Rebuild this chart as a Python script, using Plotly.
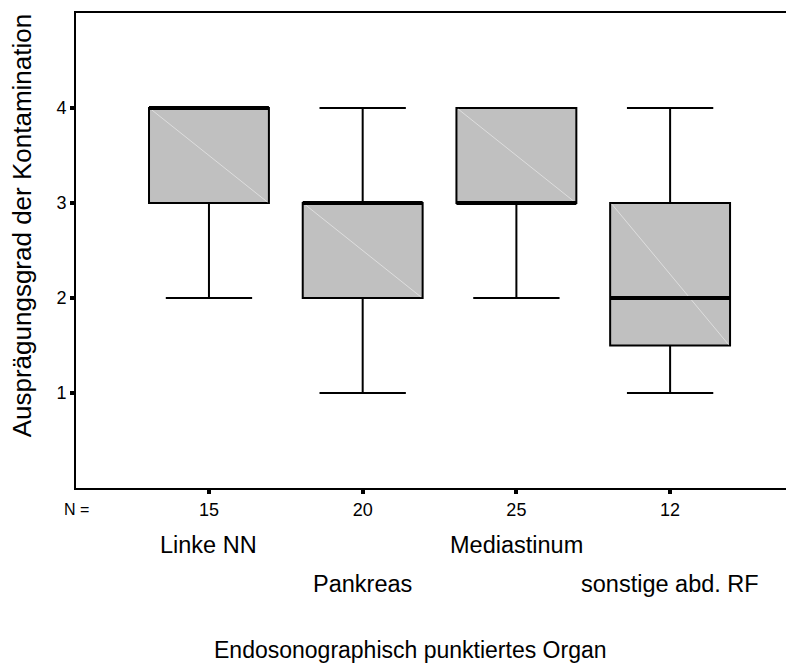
import plotly.graph_objects as go

# ---- data ----
categories = ["Linke NN", "Pankreas", "Mediastinum", "sonstige abd. RF"]
n_counts = ["15", "20", "25", "12"]
q1 = [3, 2, 3, 1.5]
median = [4, 3, 3, 2]
q3 = [4, 3, 4, 3]
lower_whisker = [2, 1, 2, 1]
upper_whisker = [4, 4, 4, 4]
y_ticks = [1, 2, 3, 4]

FONT = "Liberation Sans, Arial, sans-serif"
pos = list(range(len(categories)))
BOX_W = 0.78

fig = go.Figure()
fig.add_trace(go.Box(
    x=pos, q1=q1, median=median, q3=q3,
    lowerfence=lower_whisker, upperfence=upper_whisker,
    width=BOX_W, whiskerwidth=0.72,
    fillcolor="#c0c0c0", line=dict(color="black", width=2),
    boxpoints=False, showlegend=False, hoverinfo="skip",
))

shapes = []
for i in pos:
    # faint diagonal inside box
    shapes.append(dict(type="line", xref="x", yref="y",
                       x0=i - BOX_W / 2 + 0.01, x1=i + BOX_W / 2 - 0.01,
                       y0=q3[i] - 0.01, y1=q1[i] + 0.01,
                       line=dict(color="#dedede", width=1), layer="above"))
    # thick median line
    shapes.append(dict(type="line", xref="x", yref="y",
                       x0=i - BOX_W / 2, x1=i + BOX_W / 2,
                       y0=median[i], y1=median[i],
                       line=dict(color="black", width=4), layer="above"))

annotations = []
# N = label
annotations.append(dict(text="N =", xref="paper", yref="paper", x=0, y=0,
                        xanchor="center", yanchor="middle", yshift=-21,
                        showarrow=False, font=dict(family=FONT, size=16, color="black")))
# staggered category labels
for i, name in enumerate(categories):
    shift = -57 if i % 2 == 0 else -96
    annotations.append(dict(text=name, xref="x", yref="paper", x=i, y=0,
                            xanchor="center", yanchor="middle", yshift=shift,
                            showarrow=False, font=dict(family=FONT, size=23.5, color="black")))
# x axis title
annotations.append(dict(text="Endosonographisch punktiertes Organ", xref="x", yref="paper",
                        x=1.308, y=0, xanchor="center", yanchor="middle", yshift=-162,
                        showarrow=False, font=dict(family=FONT, size=23, color="black")))
# y axis title
annotations.append(dict(text="Ausprägungsgrad der Kontamination", xref="paper", yref="paper",
                        x=0, y=0.553, xanchor="center", yanchor="middle", xshift=-54,
                        textangle=-90, showarrow=False,
                        font=dict(family=FONT, size=26, color="black")))

# page body has an 8px default margin; figure sized so the plot lands where the reference has it
fig.update_layout(
    width=786, height=658,
    margin=dict(l=68, r=0, t=5, b=178),
    paper_bgcolor="white", plot_bgcolor="white",
    shapes=shapes, annotations=annotations,
    font=dict(family=FONT, color="black"),
    xaxis=dict(range=[-0.865, 3.806], tickmode="array", tickvals=pos, ticktext=n_counts,
               showgrid=False, zeroline=False, showline=True, linecolor="black", linewidth=2,
               mirror=True, ticks="outside", ticklen=4, tickwidth=4, tickcolor="black",
               tickfont=dict(family=FONT, size=18, color="black")),
    yaxis=dict(range=[0, 5], tickmode="array", tickvals=y_ticks,
               showgrid=False, zeroline=False, showline=True, linecolor="black", linewidth=2,
               ticks="outside", ticklen=4, tickwidth=4, tickcolor="black",
               tickfont=dict(family=FONT, size=18, color="black")),
)

fig.write_html("out.html")
